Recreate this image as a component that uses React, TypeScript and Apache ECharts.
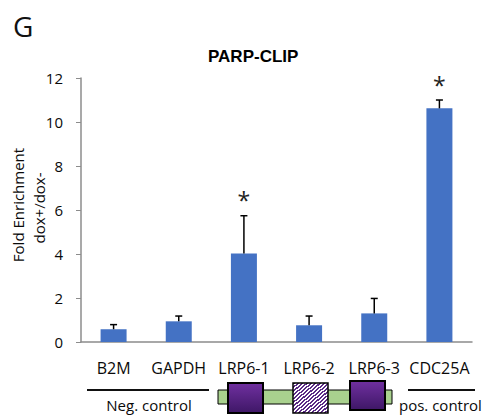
import React, { useEffect, useRef } from "react";
import * as echarts from "echarts";

const categories = ["B2M", "GAPDH", "LRP6-1", "LRP6-2", "LRP6-3", "CDC25A"];
const foldEnrichment = [0.58, 0.94, 4.02, 0.76, 1.3, 10.62];
const errorUpper = [0.21, 0.24, 1.72, 0.42, 0.68, 0.38];
const significant = [false, false, true, false, false, true];
const yTicks = { min: 0, max: 12, interval: 2 };

const LABEL_FONT = "'Open Sans', 'Liberation Sans', sans-serif";

function hatchGradient() {
  const stops: { offset: number; color: string }[] = [];
  const n = 16;
  for (let i = 0; i < n; i++) {
    const a = i / n;
    const b = (i + 0.5) / n;
    stops.push({ offset: a, color: "#5b2a86" });
    stops.push({ offset: b - 0.0001, color: "#5b2a86" });
    stops.push({ offset: b, color: "#ffffff" });
    stops.push({ offset: (i + 1) / n - 0.0001, color: "#ffffff" });
  }
  return new echarts.graphic.LinearGradient(0, 0, 1, 1, stops);
}

function purpleGradient() {
  return new echarts.graphic.LinearGradient(0, 0, 0, 1, [
    { offset: 0, color: "#7030a0" },
    { offset: 1, color: "#3e1766" },
  ]);
}

export default function App() {
  const ref = useRef<HTMLDivElement>(null);
  useEffect(() => {
    if (!ref.current) return;
    const chart = echarts.init(ref.current, undefined, { renderer: "svg" });
    const errData = categories.map((c, i) => [
      i,
      foldEnrichment[i],
      foldEnrichment[i] + errorUpper[i],
      significant[i] ? 1 : 0,
    ]);
    chart.setOption({
      animation: false,
      backgroundColor: "#ffffff",
      title: {
        text: "PARP-CLIP",
        left: 208,
        top: 48,
        padding: 0,
        textStyle: {
          fontFamily: "'Liberation Sans', Arial, sans-serif",
          fontWeight: "bold",
          fontSize: 17,
          color: "#000",
        },
      },
      grid: { left: 81, right: 17, top: 78, bottom: 74, containLabel: false },
      xAxis: {
        type: "category",
        data: categories,
        axisLine: { lineStyle: { color: "#8c8c8c", width: 1.5 } },
        axisTick: { show: false },
        axisLabel: {
          interval: 0,
          color: "#0a0a0a",
          fontSize: 16,
          fontFamily: LABEL_FONT,
          margin: 18,
        },
      },
      yAxis: {
        type: "value",
        min: yTicks.min,
        max: yTicks.max,
        interval: yTicks.interval,
        splitLine: { show: false },
        axisLine: { show: true, lineStyle: { color: "#8c8c8c", width: 1.5 } },
        axisTick: { show: true, length: 5, lineStyle: { color: "#8c8c8c" } },
        axisLabel: {
          color: "#0a0a0a",
          fontSize: 15,
          fontFamily: LABEL_FONT,
          margin: 18,
        },
      },
      series: [
        {
          type: "bar",
          data: foldEnrichment,
          barWidth: 26,
          itemStyle: { color: "#4472c4" },
        },
        {
          type: "custom",
          data: errData,
          z: 5,
          renderItem: (params: any, api: any) => {
            const x = api.value(0);
            const base = api.coord([x, api.value(1)]);
            const top = api.coord([x, api.value(2)]);
            const children: any[] = [
              {
                type: "line",
                shape: { x1: base[0], y1: base[1], x2: top[0], y2: top[1] },
                style: { stroke: "#000", lineWidth: 1.5 },
              },
              {
                type: "line",
                shape: { x1: top[0] - 3.5, y1: top[1], x2: top[0] + 3.5, y2: top[1] },
                style: { stroke: "#000", lineWidth: 1.5 },
              },
            ];
            if (api.value(3) === 1) {
              children.push({
                type: "text",
                x: top[0],
                y: top[1] - 4,
                style: {
                  text: "*",
                  fontSize: 23,
                  fontFamily: LABEL_FONT,
                  fill: "#222",
                  align: "center",
                  verticalAlign: "bottom",
                },
              });
            }
            return { type: "group", children };
          },
        },
      ],
      graphic: [
        {
          type: "text",
          x: 13,
          y: 26,
          style: {
            text: "G",
            fontSize: 28,
            fontFamily: LABEL_FONT,
            fill: "#111",
            verticalAlign: "middle",
          },
        },
        {
          type: "text",
          x: 18,
          y: 205,
          rotation: Math.PI / 2,
          style: {
            text: "Fold Enrichment",
            fontSize: 15,
            fontFamily: LABEL_FONT,
            fill: "#0a0a0a",
            align: "center",
            verticalAlign: "middle",
          },
        },
        {
          type: "text",
          x: 39,
          y: 208,
          rotation: Math.PI / 2,
          style: {
            text: "dox+/dox-",
            fontSize: 15,
            fontFamily: LABEL_FONT,
            fill: "#0a0a0a",
            align: "center",
            verticalAlign: "middle",
          },
        },
        {
          type: "line",
          shape: { x1: 87, y1: 390, x2: 209, y2: 390 },
          style: { stroke: "#111", lineWidth: 2 },
        },
        {
          type: "text",
          x: 149,
          y: 405,
          style: {
            text: "Neg. control",
            fontSize: 15,
            fontFamily: LABEL_FONT,
            fill: "#0a0a0a",
            align: "center",
            verticalAlign: "middle",
          },
        },
        {
          type: "line",
          shape: { x1: 408, y1: 390, x2: 475, y2: 390 },
          style: { stroke: "#111", lineWidth: 2 },
        },
        {
          type: "text",
          x: 399,
          y: 405,
          style: {
            text: "pos. control",
            fontSize: 15,
            fontFamily: LABEL_FONT,
            fill: "#0a0a0a",
            align: "left",
            verticalAlign: "middle",
          },
        },
        {
          type: "rect",
          shape: { x: 218, y: 390, width: 174, height: 14 },
          style: { fill: "#a9d18e", stroke: "#000", lineWidth: 1 },
        },
        {
          type: "rect",
          shape: { x: 228, y: 383, width: 35, height: 30 },
          style: { fill: purpleGradient(), stroke: "#000", lineWidth: 2 },
        },
        {
          type: "rect",
          shape: { x: 293, y: 383, width: 35, height: 30 },
          style: { fill: hatchGradient(), stroke: "#000", lineWidth: 1.5 },
        },
        {
          type: "rect",
          shape: { x: 350, y: 381, width: 35, height: 29 },
          style: { fill: purpleGradient(), stroke: "#000", lineWidth: 2 },
        },
      ],
    });
    return () => chart.dispose();
  }, []);
  return (
    <div
      ref={ref}
      style={{ position: "fixed", left: 0, top: 0, width: 489, height: 416 }}
    />
  );
}
